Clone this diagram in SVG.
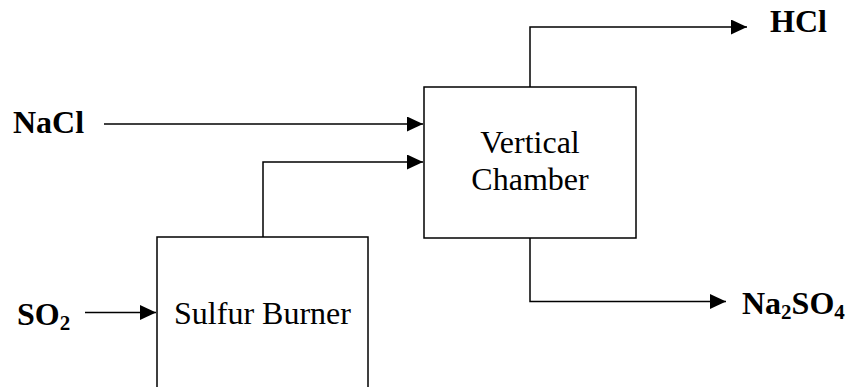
<svg xmlns="http://www.w3.org/2000/svg" width="845" height="387" viewBox="0 0 845 387">
<style>
.box{fill:#fff;stroke:#000;stroke-width:1.5}
.ln{fill:none;stroke:#000;stroke-width:1.5}
.t{font-family:"Liberation Serif","Times New Roman",serif;font-size:32px;fill:#000}
.b{font-weight:bold}
.sub{font-size:21px}
</style>
<defs>
<marker id="arr" markerUnits="userSpaceOnUse" markerWidth="17" markerHeight="16" refX="16" refY="7.5" orient="auto">
<path d="M0,0 L16,7.5 L0,15 Z" fill="#000"/>
</marker>
</defs>
<g id="connectors">
<path class="ln" d="M104,124 H423" marker-end="url(#arr)"/>
<path class="ln" d="M263,237 V162 H423" marker-end="url(#arr)"/>
<path class="ln" d="M85,312.5 H156" marker-end="url(#arr)"/>
<path class="ln" d="M530,87 V27 H747" marker-end="url(#arr)"/>
<path class="ln" d="M530,238 V301.5 H726" marker-end="url(#arr)"/>
</g>
<g id="vertical-chamber">
<rect class="box" x="424" y="87" width="212" height="151"/>
<text class="t" x="530" y="153" text-anchor="middle">Vertical</text>
<text class="t" x="530" y="190" text-anchor="middle">Chamber</text>
</g>
<g id="sulfur-burner">
<rect class="box" x="157" y="237" width="211" height="170"/>
<text class="t" x="262.5" y="324" text-anchor="middle">Sulfur Burner</text>
</g>
<g id="nacl">
<text class="t b" x="13" y="133">NaCl</text>
</g>
<g id="so2">
<text class="t b" x="17" y="325">SO<tspan class="sub" dy="5">2</tspan></text>
</g>
<g id="hcl">
<text class="t b" x="770" y="32">HCl</text>
</g>
<g id="na2so4">
<text class="t b" x="742" y="314">Na<tspan class="sub" dy="5">2</tspan><tspan dy="-5">SO</tspan><tspan class="sub" dy="5">4</tspan></text>
</g>
</svg>
